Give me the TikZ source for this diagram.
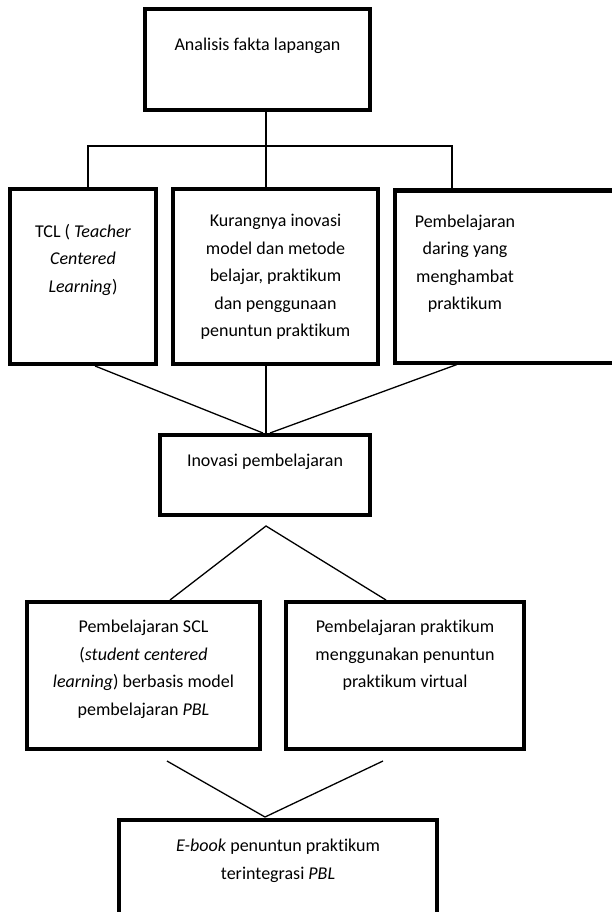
\documentclass[tikz,border=0pt]{standalone}
\usepackage{fontspec}
\setmainfont{Carlito}[Ligatures=NoCommon]
\usetikzlibrary{positioning,calc}

\begin{document}
\begin{tikzpicture}[
x=1pt,y=1pt,
node distance=13pt,
box/.style={rectangle,draw=black,line width=4pt,inner sep=0pt},
txt/.style={align=center,inner sep=0pt,font=\fontsize{18}{27.5}\selectfont},
line/.style={line width=1.3pt,draw=black}
]
\clip (0,0) rectangle (612,-912);

% boxes
\node[box,minimum width=225pt,minimum height=101pt,anchor=north west] (fakta) at (143,-7) {};
\node[box,minimum width=146pt,minimum height=175pt,anchor=north west] (tcl) at (8,-187) {};
\node[box,minimum width=205pt,minimum height=175pt,right=of tcl] (kurang) {};
\node[box,minimum width=245pt,minimum height=172pt,right=of kurang] (daring) {};
\node[box,minimum width=210pt,minimum height=80pt,anchor=north west] (inovasi) at (158,-433) {};
\node[box,minimum width=233pt,minimum height=147pt,anchor=north west] (scl) at (25,-600) {};
\node[box,minimum width=238pt,minimum height=147pt,right=22pt of scl] (virtual) {};
\node[box,minimum width=318pt,minimum height=110pt,anchor=north west] (ebook) at (117,-818) {};

% texts
\node[txt,below=31pt of fakta.north] (fakta-t) {Analisis fakta lapangan};
\node[txt,below=37pt of tcl.north] (tcl-t) {TCL ( \textit{Teacher}\\\textit{Centered}\\\textit{Learning})};
\node[txt,below=27pt of kurang.north] (kurang-t) {Kurangnya inovasi\\model dan metode\\belajar, praktikum\\dan penggunaan\\penuntun praktikum};
\node[txt,anchor=north] (daring-t) at ($(daring.north)+(-52.5,-26)$) {Pembelajaran\\daring yang\\menghambat\\praktikum};
\node[txt,below=21pt of inovasi.north] (inovasi-t) {Inovasi pembelajaran};
\node[txt,below=20pt of scl.north] (scl-t) {Pembelajaran SCL\\(\textit{student centered}\\\textit{learning}) berbasis model\\pembelajaran \textit{PBL}};
\node[txt,below=20pt of virtual.north] (virtual-t) {Pembelajaran praktikum\\menggunakan penuntun\\praktikum virtual};
\node[txt,below=21pt of ebook.north] (ebook-t) {\textit{E-book} penuntun praktikum\\terintegrasi \textit{PBL}};

% junctions
\coordinate (split) at (266,-146);
\coordinate (dropL) at (88,-146);
\coordinate (dropR) at (452,-146);
\coordinate (join) at (266,-433);
\coordinate (fork) at (266,-526);
\coordinate (sclEnd) at (167,-761);
\coordinate (virEnd) at (383,-761);
\coordinate (meet) at (265,-817);

% connectors
\draw[line] (fakta.south -| split) -- (split);
\draw[line] (dropL |- tcl.north) -- (dropL) -- (dropR) -- (dropR |- daring.north);
\draw[line] (split) -- (split |- kurang.north);
\draw[line] ($(tcl.south)+(12,0)$) -- ($(join)+(-3,0)$);
\draw[line] (kurang.south -| join) -- (join);
\draw[line] ($(daring.south)+(-60.5,0)$) -- ($(join)+(4,0)$);
\draw[line] ($(scl.north)+(26.5,0)$) -- (fork) -- ($(virtual.north)+(-19,0)$);
\draw[line] (sclEnd) -- (meet) -- (virEnd);
\end{tikzpicture}
\end{document}
